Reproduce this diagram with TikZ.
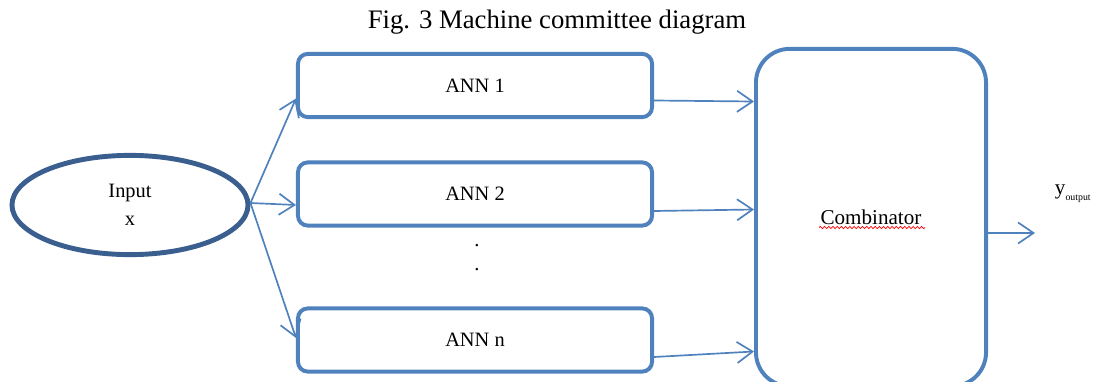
\documentclass[tikz,border=0pt]{standalone}
\usepackage{fontspec}
\setmainfont{Liberation Serif}
\usetikzlibrary{arrows.meta,shapes.geometric,calc,decorations.pathmorphing}
\definecolor{boxblue}{RGB}{79,129,189}
\definecolor{ovalblue}{RGB}{58,95,143}

\begin{document}
\begin{tikzpicture}[x=0.025cm, y=-0.025cm,
    annbox/.style={rectangle, rounded corners=7pt, draw=boxblue, line width=2.8pt,
                   minimum width=8.85cm, minimum height=1.58cm, inner sep=0pt,
                   font=\fontsize{14.5}{17}\selectfont},
    combbox/.style={annbox, rounded corners=24pt, minimum width=5.75cm, minimum height=8.43cm,
                    font=\fontsize{15}{17}\selectfont},
    inputnode/.style={ellipse, draw=ovalblue, line width=3.5pt, minimum width=5.9cm,
                      minimum height=2.48cm, inner sep=0pt, align=center,
                      font=\fontsize{14.5}{20}\selectfont},
    link/.style={boxblue, line width=1.2pt, -{Straight Barb[length=11pt, width=15pt, line width=1.2pt]}},
    dot/.style={font=\fontsize{14.5}{17}\selectfont}
]
    \useasboundingbox (0,0) rectangle (1102,381);
    \node[font=\fontsize{19}{22}\selectfont] (title) at (557,22) {Fig. 3 Machine committee diagram};
    \node[inputnode] (input) at (130,205) {Input\\x};
    \node[annbox] (ann1) at (475,85.5) {ANN 1};
    \node[annbox] (ann2) at (475,194) {ANN 2};
    \node[annbox] (annn) at (475,340) {ANN n};
    \node[dot] (dota) at (477,246) {.};
    \node[dot] (dotb) at (477,270) {.};
    \node[combbox] (comb) at (871,217.5) {Combinator};
    \draw[red, line width=0.5pt, decorate, decoration={snake, amplitude=0.8pt, segment length=3pt}]
        ($(comb.center)+(-52,10)$) -- ($(comb.center)+(54,10)$);
    \node[anchor=west, font=\fontsize{15}{17}\selectfont] (yout) at (1050,194) {y\raisebox{-0.6ex}{\fontsize{7}{8}\selectfont output}};
    \coordinate (outend) at (1035,233);

    \draw[link] ($(input.east)+(0,-2)$) -- ($(ann1.west)+(0,13)$);
    \draw[link] ($(input.east)+(0,-2)$) -- ($(ann2.west)+(0,11)$);
    \draw[link] ($(input.east)+(0,-2)$) -- ($(annn.west)+(0,-2)$);
    \draw[link] ($(ann1.east)+(0,15)$) -- ($(comb.west)+(0,-116)$);
    \draw[link] ($(ann2.east)+(0,17)$) -- ($(comb.west)+(0,-8)$);
    \draw[link] ($(annn.east)+(0,17)$) -- ($(comb.west)+(0,134)$);
    \draw[link] ($(comb.east)+(0,15.5)$) -- (outend);
\end{tikzpicture}
\end{document}
